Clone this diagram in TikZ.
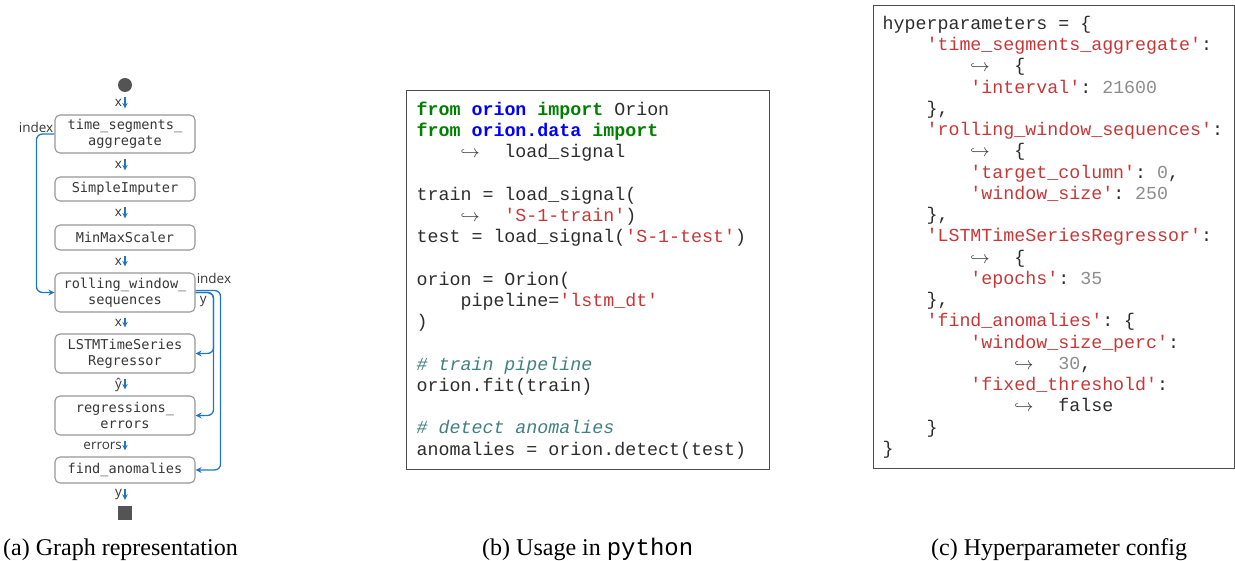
\documentclass[tikz,border=0pt]{standalone}
\usepackage{fontspec}
\setmainfont{Liberation Serif}
\setmonofont{Liberation Mono}
\newfontfamily\graphmono{DejaVu Sans Mono}
\newfontfamily\graphsans{Open Sans}
\usetikzlibrary{arrows.meta}

\definecolor{flowblue}{RGB}{31,119,195}
\definecolor{boxgray}{RGB}{150,150,150}
\definecolor{nodetext}{RGB}{55,55,55}
\definecolor{kwgreen}{RGB}{0,128,0}
\definecolor{modblue}{RGB}{0,0,255}
\definecolor{strred}{RGB}{200,55,55}
\definecolor{comteal}{RGB}{64,128,128}
\definecolor{numgray}{RGB}{140,140,140}
\definecolor{codetext}{RGB}{45,45,45}

% python highlighting
\newlength\pycw
\setlength\pycw{10.98pt}
\newcommand{\pykw}[1]{\textcolor{kwgreen}{\textbf{#1}}}
\newcommand{\pymod}[1]{\textcolor{modblue}{\textbf{#1}}}
\newcommand{\pystr}[1]{\textcolor{strred}{#1}}
\newcommand{\pynum}[1]{\textcolor{numgray}{#1}}
\newcommand{\pycom}[1]{\textcolor{comteal}{\textit{#1}}}
\newcommand{\pyind}[1]{\hspace*{#1\pycw}}
\newcommand{\pycont}{\makebox[4\pycw][l]{$\hookrightarrow$}}

\tikzset{
  block/.style={draw=boxgray, line width=1.1pt, rounded corners=5pt,
    minimum width=140pt, inner sep=0pt, align=center, text=nodetext,
    font=\graphmono\fontsize{13.6}{16}\selectfont},
  start/.style={circle, fill=black!67, minimum size=14pt, inner sep=0pt},
  sink/.style={rectangle, fill=black!67, minimum size=14pt, inner sep=0pt},
  flow/.style={draw=flowblue, line width=1.2pt, -{Stealth[length=5.5pt,width=5.5pt]},
    shorten <=5pt, shorten >=6pt},
  lbl/.style={font=\graphsans\fontsize{13.5}{15}\selectfont, text=nodetext, inner sep=2.5pt},
  link/.style={draw=flowblue, line width=1.3pt, rounded corners=6pt,
    -{Stealth[length=6pt,width=6pt]}},
  % full-width spaces, align=left would make them narrow
  codebox/.style={draw=black!70, line width=1.3pt, anchor=north west, align=left,
    inner ysep=0pt, text=codetext, font=\ttfamily\fontsize{18.3}{21.25}\selectfont,
    execute at begin node={\spaceskip=\pycw\xspaceskip=\pycw}},
  caption/.style={anchor=base west, inner sep=0pt, font=\fontsize{24}{27}\selectfont}
}

\begin{document}
\begin{tikzpicture}[x=1pt, y=-1pt]
  \useasboundingbox (0,0) rectangle (1235,561);

  % (a) pipeline graph
  \node[start] (src) at (125,85) {};
  \node[block, minimum height=38pt] (tsa) at (125,134) {time\_segments\_\\aggregate};
  \node[block, minimum height=24pt] (imp) at (125,189) {SimpleImputer};
  \node[block, minimum height=25pt] (mms) at (125,237.5) {MinMaxScaler};
  \node[block, minimum height=39pt] (rws) at (125,292.5) {rolling\_window\_\\sequences};
  \node[block, minimum height=39pt] (lstm) at (125,353.5) {LSTMTimeSeries\\Regressor};
  \node[block, minimum height=39pt] (err) at (125,415.5) {regressions\_\\errors};
  \node[block, minimum height=26pt] (fa) at (125,470) {find\_anomalies};
  \node[sink] (out) at (125,513) {};

  \draw[flow] (src) -- node[lbl, left] {x} (tsa);
  \draw[flow] (tsa) -- node[lbl, left] {x} (imp);
  \draw[flow] (imp) -- node[lbl, left] {x} (mms);
  \draw[flow] (mms) -- node[lbl, left] {x} (rws);
  \draw[flow] (rws) -- node[lbl, left] {x} (lstm);
  \draw[flow] (lstm) -- node[lbl, left] {ŷ} (err);
  \draw[flow] (err) -- node[lbl, left] {errors} (fa);
  \draw[flow] (fa) -- node[lbl, left] {y} (out);

  % side inputs
  \draw[link] (tsa.west) -- ++(-18,0) |- (rws.west);
  \node[lbl, anchor=south east, inner sep=1pt] (idxa) at (tsa.west) {index};
  \draw[link] ([yshift=2pt]rws.east) -- ++(25,0) |- (fa.east);
  \draw[link] (rws.east) -- ++(18,0) |- (lstm.east);
  \draw[link] (rws.east) -- ++(18,0) |- (err.east);
  \node[lbl, anchor=south west, inner sep=1pt] (idxb) at ([yshift=8pt]rws.east) {index};
  \node[lbl, anchor=north west, inner sep=1pt] (ylbl) at ([xshift=3pt,yshift=-3pt]rws.east) {y};

  % (b) usage
  \node[codebox, minimum width=363pt, minimum height=379pt, text width=343pt,
    inner xsep=10pt] (usage) at (406,90) {%
    \pykw{from} \pymod{orion} \pykw{import} Orion\\
    \pykw{from} \pymod{orion.data} \pykw{import}\\
    \pyind{4}\pycont load\_signal\\
    \mbox{}\\
    train = load\_signal(\\
    \pyind{4}\pycont\pystr{'S-1-train'})\\
    test = load\_signal(\pystr{'S-1-test'})\\
    \mbox{}\\
    orion = Orion(\\
    \pyind{4}pipeline=\pystr{'lstm\_dt'}\\
    )\\
    \mbox{}\\
    \pycom{\# train pipeline}\\
    orion.fit(train)\\
    \mbox{}\\
    \pycom{\# detect anomalies}\\
    anomalies = orion.detect(test)};

  % (c) hyperparameters
  \node[codebox, minimum width=361pt, minimum height=463pt, text width=343pt,
    inner xsep=9pt] (hyper) at (873,5) {%
    hyperparameters = \{\\
    \pyind{4}\pystr{'time\_segments\_aggregate'}:\\
    \pyind{8}\pycont\{\\
    \pyind{8}\pystr{'interval'}: \pynum{21600}\\
    \pyind{4}\},\\
    \pyind{4}\pystr{'rolling\_window\_sequences'}:\\
    \pyind{8}\pycont\{\\
    \pyind{8}\pystr{'target\_column'}: \pynum{0},\\
    \pyind{8}\pystr{'window\_size'}: \pynum{250}\\
    \pyind{4}\},\\
    \pyind{4}\pystr{'LSTMTimeSeriesRegressor'}:\\
    \pyind{8}\pycont\{\\
    \pyind{8}\pystr{'epochs'}: \pynum{35}\\
    \pyind{4}\},\\
    \pyind{4}\pystr{'find\_anomalies'}: \{\\
    \pyind{8}\pystr{'window\_size\_perc'}:\\
    \pyind{12}\pycont\pynum{30},\\
    \pyind{8}\pystr{'fixed\_threshold'}:\\
    \pyind{12}\pycont false\\
    \pyind{4}\}\\
    \}};

  % captions
  \node[caption] (capa) at (3,555) {(a) Graph representation};
  \node[caption] (capb) at (482,555) {(b) Usage in \texttt{python}};
  \node[caption] (capc) at (931,555) {(c) Hyperparameter config};
\end{tikzpicture}
\end{document}
